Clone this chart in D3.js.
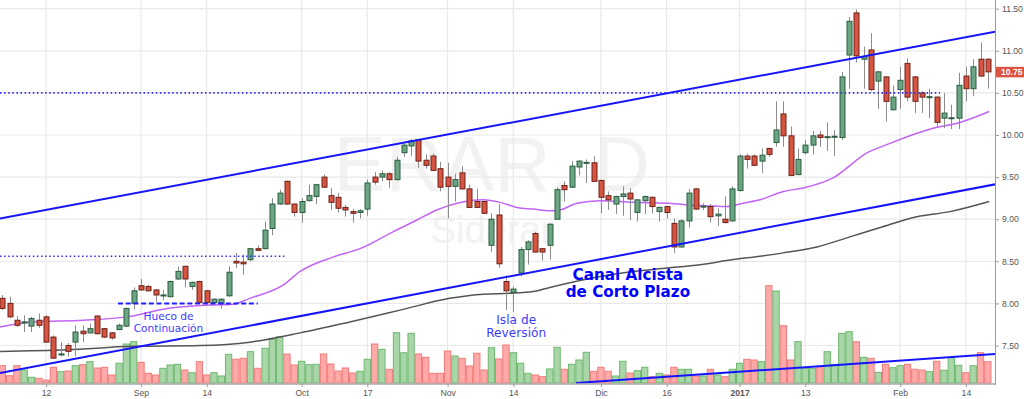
<!DOCTYPE html>
<html><head><meta charset="utf-8">
<script src="https://cdn.jsdelivr.net/npm/d3@7/dist/d3.min.js"></script>
<style>html,body{margin:0;padding:0;background:#fff;}svg{display:block;}</style>
</head><body>
<script>
// ---- DATA ----
const openP = [8.06,8.00,7.80,7.77,7.73,7.80,7.84,7.60,7.39,7.50,7.54,7.67,7.65,7.85,7.70,7.65,7.69,7.73,8.00,8.21,
 8.20,8.16,8.09,8.08,8.29,8.44,8.20,8.26,8.15,8.01,8.00,8.09,8.50,8.49,8.52,8.65,8.65,8.89,9.18,9.45,
 9.18,9.08,9.22,9.27,9.50,9.28,9.26,9.14,9.09,9.08,9.12,9.50,9.50,9.54,9.47,9.79,9.87,9.94,9.70,9.75,
 9.60,9.50,9.39,9.55,9.36,9.21,9.21,8.69,9.05,8.26,8.13,8.36,8.64,8.83,8.65,8.69,9.00,9.40,9.38,9.62,
 9.67,9.67,9.46,9.28,9.18,9.27,9.31,9.08,9.22,9.26,9.09,9.15,8.95,8.67,8.98,9.36,9.15,9.15,9.04,9.00,
 8.98,9.34,9.75,9.75,9.69,9.84,9.91,10.25,9.99,9.53,9.79,9.88,10.00,9.97,9.98,9.97,10.95,11.45,10.90,11.01,
 10.64,10.69,10.30,10.54,10.85,10.69,10.50,10.45,10.45,10.20,10.20,10.20,10.70,10.55,10.90,10.90];
const highP = [8.10,8.08,7.85,7.86,7.84,7.88,7.86,7.62,7.54,7.53,7.74,7.74,7.76,7.86,7.71,7.66,7.76,7.95,8.19,8.29,
 8.22,8.17,8.16,8.27,8.44,8.45,8.26,8.27,8.16,8.06,8.06,8.44,8.60,8.58,8.66,8.69,8.97,9.25,9.35,9.46,
 9.19,9.25,9.41,9.42,9.53,9.37,9.31,9.17,9.12,9.12,9.47,9.56,9.58,9.56,9.74,9.90,9.95,9.95,9.77,9.78,
 9.68,9.67,9.54,9.63,9.41,9.36,9.22,9.07,9.18,8.33,8.20,8.67,8.75,8.85,8.66,8.95,9.38,9.45,9.69,9.70,
 9.71,9.75,9.47,9.33,9.28,9.39,9.37,9.24,9.28,9.27,9.15,9.16,9.01,9.00,9.36,9.37,9.19,9.18,9.13,9.27,
 9.39,9.77,9.78,9.77,9.84,9.85,10.40,10.40,10.10,9.84,9.94,10.05,10.05,10.15,10.06,10.75,11.40,11.49,11.05,11.21,
 10.76,10.70,10.59,10.81,10.91,10.70,10.52,10.55,10.46,10.50,10.36,10.74,10.81,10.90,11.10,10.91];
const lowP = [7.92,7.83,7.72,7.66,7.66,7.71,7.53,7.34,7.37,7.37,7.37,7.54,7.64,7.63,7.59,7.57,7.68,7.72,7.93,8.15,
 8.14,8.02,8.04,8.07,8.28,8.19,8.16,8.00,7.99,8.00,7.94,8.08,8.42,8.34,8.50,8.62,8.64,8.81,9.17,9.17,
 9.03,8.96,9.21,9.18,9.37,9.11,9.08,9.03,8.96,9.01,9.04,9.41,9.45,9.37,9.46,9.74,9.75,9.61,9.60,9.57,
 9.33,9.01,9.21,9.35,9.13,9.13,9.06,8.61,8.42,7.92,7.90,8.32,8.46,8.60,8.51,8.52,9.00,9.21,9.37,9.52,
 9.43,9.44,9.07,9.11,9.06,9.04,8.99,8.97,9.06,9.07,8.97,9.01,8.60,8.66,8.90,9.11,9.11,8.96,8.92,8.95,
 8.97,9.33,9.60,9.63,9.55,9.74,9.86,9.86,9.51,9.52,9.77,9.77,9.86,9.81,9.75,9.94,10.55,10.86,10.55,10.52,
 10.31,10.16,10.29,10.31,10.40,10.26,10.26,10.20,10.10,10.08,10.07,10.07,10.40,10.46,10.69,10.55];
const closeP = [7.94,7.84,7.74,7.78,7.82,7.74,7.54,7.35,7.40,7.43,7.66,7.64,7.70,7.64,7.60,7.59,7.74,7.94,8.15,8.16,
 8.15,8.10,8.10,8.26,8.38,8.29,8.25,8.01,8.01,8.05,8.05,8.37,8.48,8.47,8.65,8.63,8.87,9.18,9.31,9.18,
 9.08,9.21,9.28,9.41,9.38,9.20,9.13,9.11,9.07,9.10,9.43,9.44,9.54,9.47,9.70,9.88,9.93,9.69,9.64,9.58,
 9.38,9.39,9.47,9.36,9.14,9.14,9.07,9.00,8.47,8.15,8.17,8.64,8.73,8.61,8.61,8.94,9.35,9.35,9.63,9.69,
 9.675,9.45,9.26,9.23,9.27,9.30,9.24,9.23,9.27,9.15,9.14,9.08,8.67,8.98,9.31,9.12,9.155,9.03,9.06,8.96,
 9.36,9.75,9.71,9.64,9.76,9.77,10.06,9.99,9.52,9.71,9.88,9.99,9.97,9.98,9.985,10.69,11.35,10.94,10.93,10.54,
 10.75,10.40,10.45,10.65,10.45,10.40,10.45,10.455,10.15,10.26,10.205,10.59,10.55,10.81,10.70,10.75];
const volume = [173,73,173,130,57,47,30,157,113,120,173,183,213,150,157,80,197,390,413,207,
 97,80,147,180,187,130,103,213,80,103,70,287,237,247,313,147,347,437,463,290,
 180,217,183,187,290,190,120,150,100,117,237,390,337,137,503,303,497,290,257,97,
 97,320,270,247,170,297,130,353,240,380,303,197,97,80,63,140,357,137,187,230,
 307,117,157,117,70,217,100,123,157,63,97,80,157,137,137,70,70,137,80,63,
 137,197,237,230,213,973,920,573,230,413,147,147,163,313,187,497,513,413,257,247,
 107,187,153,173,187,137,130,113,217,127,253,177,103,173,303,213];

// moving averages (bar index, price)
const maFastIdx = [-0.3,4.2,11.1,17.1,22.6,28.5,31.6,33.9,38.5,40.8,45.3,49.0,53.5,56.8,59.5,62.3,65.9,68.2,70.5,72.7,75.0,76.4,78.7,81.9,86.4,91.1,93.8,96.5,99.3,101.5,103.8,107.0,109.7,113.8,118.5,121.6,125.3,127.5,130.8,135.2];
const maFastVal = [7.72,7.78,7.80,7.84,7.94,7.98,7.99,8.06,8.22,8.38,8.55,8.65,8.85,8.99,9.11,9.19,9.23,9.20,9.14,9.12,9.10,9.11,9.19,9.22,9.20,9.19,9.17,9.16,9.15,9.19,9.23,9.33,9.37,9.49,9.79,9.90,10.02,10.08,10.14,10.28];
const maSlowIdx = [-0.3,8.9,17.9,27.1,33.9,40.8,47.6,54.5,61.3,65.9,69.5,72.7,75.0,81.9,86.4,91.1,95.6,100.1,103.8,107.0,111.6,116.1,120.6,125.3,129.8,135.2];
const maSlowVal = [7.43,7.45,7.49,7.50,7.54,7.65,7.78,7.92,8.06,8.11,8.12,8.14,8.19,8.32,8.38,8.42,8.46,8.52,8.56,8.60,8.67,8.79,8.91,9.03,9.09,9.21];

// drawn trend lines / levels (bar index, price)
const channelIdx = [-0.315, 136];
const channelUpper = [9.008, 11.227];
const channelLower = [7.173, 9.414];
const volTrendIdx = [78.6, 136];
const volTrendVal = [0, 290];
const levelDotted = [{p:10.50, from:-0.315, to:128.45}, {p:8.56, from:-0.315, to:39.0}];
const levelDashed = [{p:8.00, from:15.85, to:35.0}];

const priceTicks = [7.5,8.0,8.5,9.0,9.5,10.0,10.5,11.0,11.5];
const dateTickIdx = [6,19,28,41,50,61,70,82,91,101,110,123,132];
const dateTickLabels = ["12","Sep","14","Oct","17","Nov","14","Dic","16","2017","13","Feb","14"];
const lastPrice = 10.75;

const notes = [
  {lines:["Hueco de","Continuación"], i:22.77, p:7.80, size:10.6, weight:"normal", color:"#3c3cff", lh:11.6},
  {lines:["Isla de","Reversión"], i:70.4, p:7.758, size:12.2, weight:"normal", color:"#3c3cff", lh:13.6},
  {lines:["Canal Alcista","de Corto Plazo"], i:85.7, p:8.277, size:15.2, weight:"bold", color:"#0000ff", lh:16.6}
];

// ---- CHART ----
const W = 1024, H = 399, plotR = 995, plotB = 384;
const N = closeP.length;
const x = d3.scaleLinear().domain([0, N-1]).range([2.3, 2.3 + 7.3*(N-1)]);
const y = d3.scaleLinear().domain([7.5, 11.5]).range([345.5, 8.7]);
const yv = d3.scaleLinear().domain([0, 1000]).range([383, 283]);

const svg = d3.select("body").append("svg").attr("width", W).attr("height", H)
  .style("font-family", "'Liberation Sans', Arial, sans-serif");
svg.append("rect").attr("width", W).attr("height", H).attr("fill", "#fff");
svg.append("defs").append("clipPath").attr("id","plot")
  .append("rect").attr("x",0).attr("y",0).attr("width",plotR).attr("height",plotB);

const plot = svg.append("g").attr("clip-path","url(#plot)");

// watermark
plot.append("text").attr("x", 492).attr("y", 191).attr("text-anchor","middle")
  .attr("font-size", 78).attr("fill","#f2f2f2").text("ERAR, D");
plot.append("text").attr("x", 492).attr("y", 243).attr("text-anchor","middle")
  .attr("font-size", 38).attr("fill","#f2f2f2").text("Siderar");

// grid
plot.selectAll("line.hg").data(priceTicks).join("line").attr("class","hg")
  .attr("x1",0).attr("x2",plotR).attr("y1",d=>y(d)).attr("y2",d=>y(d))
  .attr("stroke","#e9e9e9").attr("stroke-width",1.2);
plot.selectAll("line.vg").data(dateTickIdx).join("line").attr("class","vg")
  .attr("x1",d=>x(d)).attr("x2",d=>x(d)).attr("y1",0).attr("y2",plotB)
  .attr("stroke","#e9e9e9").attr("stroke-width",1.2);

const bars = d3.range(N).map(i => ({i, o:openP[i], h:highP[i], l:lowP[i], c:closeP[i], v:volume[i], up: closeP[i] >= openP[i]}));

// volume
plot.selectAll("rect.vol").data(bars).join("rect").attr("class","vol")
  .attr("x", d => x(d.i) - 3.15).attr("width", 6.3)
  .attr("y", d => yv(d.v)).attr("height", d => yv(0) - yv(d.v))
  .attr("fill", d => d.up ? "#a9d6a9" : "#ffa9a9")
  .attr("stroke", d => d.up ? "#6db86d" : "#f27b7b").attr("stroke-width", 1);

// moving averages
const lineFn = d3.line().x(d=>x(d[0])).y(d=>y(d[1])).curve(d3.curveMonotoneX);
plot.append("path").datum(maSlowIdx.map((d,k)=>[d, maSlowVal[k]]))
  .attr("d", lineFn).attr("fill","none").attr("stroke","#555").attr("stroke-width",1.5);
plot.append("path").datum(maFastIdx.map((d,k)=>[d, maFastVal[k]]))
  .attr("d", lineFn).attr("fill","none").attr("stroke","#c264f5").attr("stroke-width",1.5);

// candles
const cg = plot.append("g");
cg.selectAll("line.wick").data(bars).join("line").attr("class","wick")
  .attr("x1", d => Math.round(x(d.i)) + 0.5).attr("x2", d => Math.round(x(d.i)) + 0.5)
  .attr("y1", d => y(d.h)).attr("y2", d => y(d.l))
  .attr("stroke", "#8c8c8c").attr("stroke-width", 1);
cg.selectAll("rect.body").data(bars).join("rect").attr("class","body")
  .attr("x", d => Math.round(x(d.i)) - 2).attr("width", 5)
  .attr("y", d => y(Math.max(d.o, d.c)))
  .attr("height", d => Math.max(1, Math.abs(y(d.o) - y(d.c))))
  .attr("fill", d => d.up ? "#6ba583" : "#d75442")
  .attr("stroke", d => d.up ? "#2b5e40" : "#6e2218").attr("stroke-width", 1);

// channel lines
const straight = d3.line().x(d=>x(d[0])).y(d=>y(d[1]));
[channelUpper, channelLower].forEach(vals => {
  plot.append("path").datum(channelIdx.map((d,k)=>[d, vals[k]]))
    .attr("d", straight).attr("fill","none").attr("stroke","#1414ff").attr("stroke-width",2);
});
plot.append("path").datum(volTrendIdx.map((d,k)=>[d, volTrendVal[k]]))
  .attr("d", d3.line().x(d=>x(d[0])).y(d=>yv(d[1])))
  .attr("fill","none").attr("stroke","#1414ff").attr("stroke-width",2);

// levels
plot.selectAll("line.dot").data(levelDotted).join("line").attr("class","dot")
  .attr("x1", d=>x(d.from)).attr("x2", d=>x(d.to)).attr("y1", d=>y(d.p)).attr("y2", d=>y(d.p))
  .attr("stroke","#2a2aff").attr("stroke-width",1.6).attr("stroke-dasharray","1.5,2.6");
plot.selectAll("line.dash").data(levelDashed).join("line").attr("class","dash")
  .attr("x1", d=>x(d.from)).attr("x2", d=>x(d.to)).attr("y1", d=>y(d.p)).attr("y2", d=>y(d.p))
  .attr("stroke","#2020ff").attr("stroke-width",2).attr("stroke-dasharray","5,2.7");

// annotations
notes.forEach(n => {
  const t = plot.append("text").attr("text-anchor","middle")
    .attr("font-family","'DejaVu Sans', Verdana, sans-serif")
    .attr("font-size", n.size).attr("font-weight", n.weight).attr("fill", n.color);
  n.lines.forEach((s,k) => t.append("tspan").attr("x", x(n.i)).attr("y", y(n.p) + k*n.lh).text(s));
});

// axes
svg.append("line").attr("x1",plotR+0.5).attr("x2",plotR+0.5).attr("y1",0).attr("y2",plotB+1)
  .attr("stroke","#9a9a9a").attr("stroke-width",1);
svg.append("line").attr("x1",0).attr("x2",plotR).attr("y1",plotB).attr("y2",plotB)
  .attr("stroke","#a8a8a8").attr("stroke-width",1.6);

const ay = svg.append("g").attr("transform", `translate(${plotR},0)`)
  .call(d3.axisRight(y).tickValues(priceTicks).tickFormat(d3.format(".2f")).tickSize(4).tickPadding(3));
ay.select(".domain").remove();
ay.selectAll("line").attr("stroke","#9a9a9a");
ay.selectAll("text").attr("font-size", 8.6).attr("fill","#555").attr("font-family","'Liberation Sans', Arial, sans-serif");

const ax = svg.append("g").attr("transform", `translate(0,${plotB})`)
  .call(d3.axisBottom(x).tickValues(dateTickIdx).tickFormat((d,k)=>dateTickLabels[k]).tickSize(3).tickPadding(3));
ax.select(".domain").remove();
ax.selectAll("line").attr("stroke","#9a9a9a");
ax.selectAll("text").attr("font-size", 8.6).attr("fill","#555")
  .attr("font-family","'Liberation Sans', Arial, sans-serif")
  .attr("font-weight", (d,k)=> dateTickLabels[k]==="2017" ? "bold" : "normal");

// last price label
const lp = svg.append("g");
lp.append("rect").attr("x", plotR+1).attr("y", y(lastPrice)-5).attr("width", W-plotR-1).attr("height", 10.5)
  .attr("fill","#dc5441");
lp.append("text").attr("x", plotR+6).attr("y", y(lastPrice)+3.2).attr("font-size", 8.6)
  .attr("font-weight","bold").attr("fill","#fff").text(d3.format(".2f")(lastPrice));
</script>
</body></html>
